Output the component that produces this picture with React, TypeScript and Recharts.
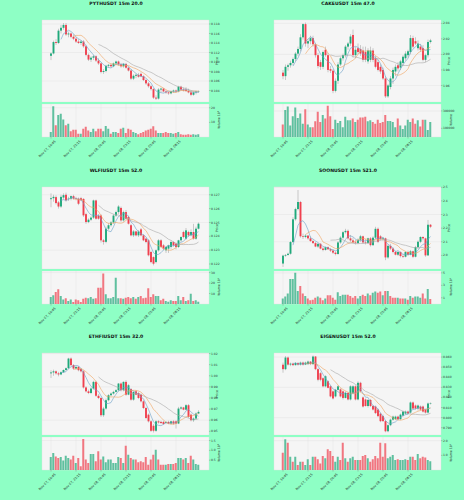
import { ComposedChart, Bar, Line, XAxis, YAxis, CartesianGrid, Cell } from "recharts";

// x axis: 60 fifteen-minute candles, a date label every 10 candles
const tickIndex = [0, 10, 20, 30, 40, 50];
const tickLabels = ["Nov 07, 19:45", "Nov 07, 22:15", "Nov 08, 00:45", "Nov 08, 03:15", "Nov 08, 05:45", "Nov 08, 08:15"];

// [open, high, low, close]
const pythCandles = [
  [0.1113, 0.112, 0.1104, 0.1118], [0.1118, 0.1145, 0.1116, 0.1142], [0.1142, 0.1148, 0.1136, 0.114], [0.114, 0.117, 0.1138, 0.1166],
  [0.1166, 0.1178, 0.116, 0.1172], [0.1172, 0.1182, 0.1168, 0.1178], [0.1178, 0.1182, 0.1155, 0.1158], [0.1158, 0.1164, 0.1152, 0.116],
  [0.116, 0.1162, 0.115, 0.1153], [0.1153, 0.1158, 0.1146, 0.1149], [0.1149, 0.1152, 0.114, 0.1143], [0.1143, 0.1148, 0.1138, 0.114],
  [0.114, 0.1146, 0.1136, 0.1143], [0.1143, 0.1146, 0.113, 0.1133], [0.1133, 0.1136, 0.1112, 0.1115], [0.1115, 0.1118, 0.1102, 0.1105],
  [0.1105, 0.1112, 0.11, 0.1109], [0.1109, 0.1115, 0.1104, 0.1112], [0.1112, 0.1114, 0.11, 0.1103], [0.1103, 0.1108, 0.1094, 0.1097],
  [0.1097, 0.1099, 0.1076, 0.1079], [0.1079, 0.1085, 0.1075, 0.1081], [0.1081, 0.1094, 0.1078, 0.1092], [0.1092, 0.1096, 0.1088, 0.1094],
  [0.1094, 0.1096, 0.1088, 0.1091], [0.1091, 0.1099, 0.1089, 0.1097], [0.1097, 0.1103, 0.1094, 0.1101], [0.1101, 0.1103, 0.1092, 0.1095],
  [0.1095, 0.1098, 0.1088, 0.1091], [0.1091, 0.1098, 0.1088, 0.1096], [0.1096, 0.1098, 0.1086, 0.1088], [0.1088, 0.109, 0.108, 0.1082],
  [0.1082, 0.1085, 0.1062, 0.1065], [0.1065, 0.1074, 0.1062, 0.1071], [0.1071, 0.1075, 0.1066, 0.1073], [0.1073, 0.1077, 0.1067, 0.1069],
  [0.1075, 0.1078, 0.1068, 0.107], [0.107, 0.1072, 0.106, 0.1062], [0.1062, 0.1064, 0.1052, 0.1055], [0.1055, 0.1058, 0.1046, 0.1049],
  [0.1049, 0.1052, 0.104, 0.1043], [0.1043, 0.1045, 0.1022, 0.1025], [0.1025, 0.103, 0.102, 0.1023], [0.1023, 0.1045, 0.1021, 0.1042],
  [0.1042, 0.1046, 0.1036, 0.1044], [0.1044, 0.1045, 0.1036, 0.1038], [0.1038, 0.1041, 0.1033, 0.1036], [0.1036, 0.1038, 0.1031, 0.1034],
  [0.1034, 0.104, 0.1032, 0.1038], [0.1038, 0.1042, 0.1035, 0.104], [0.104, 0.1042, 0.1036, 0.1038], [0.1038, 0.105, 0.1036, 0.1048],
  [0.1048, 0.105, 0.104, 0.1042], [0.1042, 0.1046, 0.1038, 0.104], [0.1042, 0.1047, 0.1037, 0.1039], [0.1039, 0.1044, 0.1034, 0.1036],
  [0.1036, 0.104, 0.1028, 0.1031], [0.1031, 0.1038, 0.1029, 0.1036], [0.1036, 0.104, 0.1032, 0.1038], [0.1038, 0.104, 0.1035, 0.1039],
];
const pythVolume = [
  3.4, 21, 8, 15, 16, 12, 8, 9, 4, 5, 5, 2.3, 2.3, 5.7, 7, 4.5, 3.4, 5.7, 4, 5.7,
  5.7, 4, 7.5, 5.7, 2.3, 3.4, 3.4, 2.7, 5.7, 6.4, 2.7, 5.7, 5, 3.4, 2.7, 1.8, 2.7, 3.4, 4.5, 5,
  5.7, 7.3, 4.5, 2.7, 2.7, 2.7, 3.4, 2.7, 2.7, 2.3, 2.7, 3.4, 1.8, 1.6, 1.6, 1.8, 1.6, 1.8, 1.6, 1.8,
];

const cakeCandles = [
  [1.9765, 1.98, 1.968, 1.972], [1.972, 1.987, 1.967, 1.984], [1.984, 1.988, 1.979, 1.986], [1.986, 1.992, 1.983, 1.989],
  [1.989, 1.996, 1.986, 1.994], [1.994, 2.003, 1.991, 2.001], [2.001, 2.01, 1.998, 2.007], [2.007, 2.026, 2.004, 2.022],
  [2.022, 2.04, 2.019, 2.039], [2.039, 2.041, 2.01, 2.014], [2.014, 2.02, 2.008, 2.017], [2.017, 2.024, 2.013, 2.021],
  [2.021, 2.024, 2.01, 2.013], [2.013, 2.015, 1.996, 1.999], [1.999, 2.002, 1.982, 1.985], [1.99, 1.993, 1.98, 1.984],
  [1.984, 2.005, 1.981, 2.003], [2.006, 2.01, 1.997, 1.999], [1.999, 2.002, 1.977, 1.98], [1.981, 1.985, 1.976, 1.979],
  [1.979, 1.981, 1.95, 1.953], [1.953, 1.969, 1.951, 1.966], [1.966, 1.99, 1.962, 1.987], [1.987, 1.997, 1.985, 1.995],
  [1.995, 2.001, 1.992, 1.999], [1.999, 2.012, 1.996, 2.01], [2.01, 2.016, 2.006, 2.014], [2.014, 2.026, 2.011, 2.023],
  [2.025, 2.032, 1.996, 1.999], [1.999, 2.01, 1.995, 2.006], [2.008, 2.014, 2.0, 2.003], [2.007, 2.012, 1.998, 2.001],
  [2.005, 2.01, 1.99, 1.993], [2.003, 2.01, 1.99, 1.993], [1.991, 2.008, 1.988, 2.005], [1.993, 2.01, 1.99, 2.005],
  [2.005, 2.008, 1.99, 1.993], [1.995, 1.998, 1.982, 1.984], [1.99, 1.993, 1.978, 1.98], [1.984, 1.987, 1.975, 1.978],
  [1.98, 1.983, 1.967, 1.969], [1.969, 1.972, 1.944, 1.946], [1.946, 1.962, 1.944, 1.96], [1.958, 1.972, 1.955, 1.969],
  [1.969, 1.983, 1.962, 1.98], [1.978, 1.987, 1.972, 1.984], [1.986, 1.99, 1.978, 1.982], [1.983, 1.993, 1.98, 1.991],
  [1.989, 1.999, 1.985, 1.997], [1.995, 2.004, 1.992, 2.001], [1.999, 2.006, 1.996, 2.004], [2.003, 2.025, 2.0, 2.021],
  [2.021, 2.024, 2.008, 2.01], [2.017, 2.022, 2.012, 2.014], [2.008, 2.018, 2.005, 2.014], [2.01, 2.013, 2.003, 2.006],
  [2.008, 2.012, 1.991, 1.993], [1.993, 2.001, 1.99, 1.999], [1.999, 2.019, 1.996, 2.016], [2.016, 2.02, 2.014, 2.018],
];
const cakeVolume = [
  144000, 312000, 352000, 132000, 240000, 340000, 220000, 272000, 152000, 320000,
  144000, 112000, 112000, 180000, 292000, 172000, 252000, 212000, 360000, 240000,
  92000, 200000, 160000, 184000, 112000, 232000, 192000, 192000, 212000, 172000,
  200000, 224000, 224000, 232000, 180000, 192000, 172000, 152000, 200000, 160000,
  172000, 252000, 184000, 184000, 172000, 112000, 212000, 132000, 92000, 132000,
  200000, 172000, 212000, 152000, 192000, 120000, 200000, 200000, 80000, 172000,
];

const wlfiCandles = [
  [0.12668, 0.1271, 0.1261, 0.12675], [0.12675, 0.127, 0.1265, 0.12685], [0.12683, 0.12695, 0.1263, 0.1264], [0.12645, 0.12655, 0.126, 0.12615],
  [0.12615, 0.127, 0.12605, 0.12685], [0.1268, 0.1271, 0.12665, 0.12697], [0.127, 0.12715, 0.1265, 0.1266], [0.12668, 0.12685, 0.12655, 0.12672],
  [0.12672, 0.12695, 0.1266, 0.1269], [0.1269, 0.127, 0.12665, 0.12672], [0.12674, 0.12685, 0.1266, 0.1267], [0.12672, 0.1268, 0.12625, 0.12635],
  [0.12675, 0.12685, 0.12655, 0.1266], [0.1267, 0.12675, 0.1254, 0.12551], [0.1256, 0.1257, 0.1249, 0.12503], [0.12503, 0.1253, 0.12495, 0.1252],
  [0.1252, 0.12545, 0.1251, 0.12535], [0.12535, 0.12665, 0.12525, 0.12659], [0.12659, 0.12665, 0.1252, 0.12527], [0.1255, 0.1256, 0.1252, 0.12527],
  [0.1255, 0.1256, 0.12355, 0.12371], [0.12371, 0.1238, 0.1234, 0.1236], [0.1236, 0.1247, 0.1235, 0.12455], [0.12455, 0.12495, 0.12445, 0.1248],
  [0.1248, 0.1251, 0.1247, 0.125], [0.125, 0.1256, 0.1249, 0.1255], [0.1255, 0.12585, 0.1254, 0.12575], [0.12575, 0.12625, 0.1256, 0.12615],
  [0.12605, 0.12615, 0.12505, 0.12515], [0.12515, 0.12585, 0.12505, 0.12575], [0.12575, 0.1259, 0.1252, 0.12527], [0.1254, 0.1255, 0.12485, 0.12491],
  [0.1248, 0.1249, 0.124, 0.12407], [0.12407, 0.12445, 0.12395, 0.12435], [0.12435, 0.1244, 0.124, 0.12407], [0.12407, 0.12445, 0.12395, 0.12435],
  [0.1245, 0.1246, 0.124, 0.12407], [0.12407, 0.12415, 0.12365, 0.12371], [0.12383, 0.1239, 0.1235, 0.12359], [0.12371, 0.1238, 0.12255, 0.12263],
  [0.12287, 0.12295, 0.12205, 0.12214], [0.1225, 0.12255, 0.1219, 0.12202], [0.12214, 0.12305, 0.12205, 0.12299], [0.12299, 0.1238, 0.1229, 0.12371],
  [0.12371, 0.1238, 0.12315, 0.12323], [0.12335, 0.12345, 0.123, 0.12311], [0.12299, 0.1233, 0.1228, 0.12323], [0.12311, 0.1234, 0.1228, 0.12335],
  [0.12323, 0.1237, 0.1231, 0.12359], [0.12359, 0.12365, 0.12325, 0.12335], [0.12347, 0.12355, 0.12305, 0.12323], [0.12323, 0.12375, 0.12315, 0.12371],
  [0.12371, 0.124, 0.1236, 0.12395], [0.12431, 0.1244, 0.12385, 0.12395], [0.12383, 0.1246, 0.12375, 0.12443], [0.12431, 0.1244, 0.12395, 0.12407],
  [0.12407, 0.1245, 0.124, 0.12431], [0.12431, 0.1249, 0.12375, 0.12383], [0.12383, 0.1247, 0.12375, 0.12455], [0.12455, 0.125, 0.1245, 0.12491],
];
const wlfiVolume = [
  6.7, 8.3, 11.4, 14, 7.6, 4.4, 5.4, 2.9, 4.4, 1.9, 4.4, 3.5, 1.9, 5, 6, 5.4, 6.7, 5, 5.4, 15.6,
  15.6, 29, 9.2, 5.4, 5.4, 6.7, 25, 5.4, 5.4, 5, 6, 6.7, 5.4, 6.7, 5, 6.7, 7.6, 5.4, 6, 15,
  6.7, 9.2, 7.6, 7.6, 3.5, 5, 2.9, 2.2, 3.5, 2.9, 2.9, 7.6, 3.5, 6.7, 2.9, 3.5, 9.8, 2.9, 3.5, 2.2,
];

const soonCandles = [
  [1.94, 2.005, 1.915, 1.998], [1.998, 2.01, 1.99, 2.003], [2.003, 2.02, 1.998, 2.012], [2.012, 2.105, 2.005, 2.098],
  [2.098, 2.28, 2.09, 2.265], [2.265, 2.35, 2.255, 2.34], [2.34, 2.48, 2.33, 2.392], [2.392, 2.4, 2.13, 2.14],
  [2.14, 2.16, 2.12, 2.135], [2.135, 2.155, 2.125, 2.145], [2.145, 2.15, 2.115, 2.125], [2.125, 2.14, 2.1, 2.105],
  [2.105, 2.115, 2.085, 2.09], [2.09, 2.1, 2.06, 2.065], [2.065, 2.09, 2.055, 2.085], [2.085, 2.09, 2.045, 2.05],
  [2.05, 2.06, 2.03, 2.04], [2.04, 2.065, 2.035, 2.06], [2.06, 2.065, 2.04, 2.045], [2.045, 2.055, 2.025, 2.035],
  [2.035, 2.045, 2.01, 2.02], [2.02, 2.03, 2.0, 2.01], [2.01, 2.105, 2.005, 2.095], [2.095, 2.14, 2.085, 2.13],
  [2.13, 2.18, 2.12, 2.17], [2.17, 2.195, 2.16, 2.18], [2.18, 2.19, 2.115, 2.125], [2.125, 2.15, 2.1, 2.11],
  [2.11, 2.13, 2.09, 2.095], [2.095, 2.115, 2.08, 2.09], [2.09, 2.125, 2.085, 2.115], [2.115, 2.15, 2.1, 2.14],
  [2.14, 2.145, 2.085, 2.095], [2.095, 2.12, 2.08, 2.09], [2.09, 2.13, 2.085, 2.125], [2.125, 2.135, 2.065, 2.075],
  [2.075, 2.14, 2.07, 2.13], [2.13, 2.21, 2.12, 2.195], [2.195, 2.205, 2.09, 2.1], [2.14, 2.15, 2.11, 2.12],
  [2.12, 2.135, 2.105, 2.125], [2.125, 2.13, 1.965, 1.985], [1.985, 2.08, 1.975, 2.07], [2.07, 2.085, 2.04, 2.05],
  [2.05, 2.06, 2.015, 2.025], [2.025, 2.035, 2.0, 2.005], [2.005, 2.03, 1.995, 2.025], [2.025, 2.03, 1.985, 1.995],
  [1.995, 2.01, 1.98, 1.99], [1.99, 2.03, 1.985, 2.025], [2.025, 2.035, 1.995, 2.005], [2.005, 2.04, 2.0, 2.03],
  [2.03, 2.035, 1.98, 1.99], [1.99, 2.07, 1.985, 2.06], [2.06, 2.11, 2.05, 2.1], [2.1, 2.14, 2.09, 2.135],
  [2.135, 2.14, 2.11, 2.125], [2.125, 2.13, 1.99, 2.0], [2.0, 2.26, 1.995, 2.225], [2.225, 2.23, 2.2, 2.21],
];
const soonVolume = [
  0.9, 1.2, 1.7, 4.0, 4.0, 5.0, 2.1, 2.9, 1.7, 1.3, 0.9, 0.6, 0.7, 1.0, 1.2, 1.0, 0.6, 0.9, 1.4, 1.4,
  1.0, 0.7, 1.9, 1.3, 1.5, 1.5, 1.5, 1.3, 1.0, 1.3, 0.9, 1.3, 1.5, 1.3, 1.7, 1.4, 1.8, 2.0, 1.8, 2.0,
  1.4, 2.1, 2.1, 1.3, 1.0, 1.0, 1.0, 0.9, 0.9, 0.9, 0.7, 1.3, 1.0, 1.2, 1.2, 1.0, 1.7, 0.9, 2.4, 0.8,
];

const ethfiCandles = [
  [1.0022, 1.005, 0.998, 1.003], [1.003, 1.0055, 1.0, 1.004], [1.004, 1.0048, 1.001, 1.0022], [1.0022, 1.0035, 0.9995, 1.0012],
  [1.0012, 1.004, 1.0005, 1.0032], [1.0032, 1.0058, 1.0025, 1.0052], [1.0052, 1.0075, 1.0045, 1.0068], [1.0068, 1.0162, 1.006, 1.0155],
  [1.0155, 1.0165, 1.0085, 1.0096], [1.0096, 1.0105, 1.0055, 1.0065], [1.0065, 1.0085, 1.0055, 1.008], [1.008, 1.0088, 1.004, 1.005],
  [1.006, 1.007, 1.003, 1.004], [1.004, 1.005, 0.9885, 0.9895], [0.9895, 0.9905, 0.985, 0.986], [0.986, 0.9875, 0.9835, 0.9845],
  [0.9845, 0.9895, 0.9835, 0.9885], [0.9885, 0.9955, 0.9875, 0.9945], [0.9945, 0.9955, 0.981, 0.982], [0.982, 0.9835, 0.979, 0.98],
  [0.98, 0.981, 0.963, 0.9645], [0.9645, 0.972, 0.963, 0.9705], [0.9705, 0.9795, 0.9695, 0.978], [0.978, 0.9835, 0.977, 0.9825],
  [0.9825, 0.985, 0.9815, 0.984], [0.984, 0.9865, 0.983, 0.9855], [0.9855, 0.988, 0.985, 0.987], [0.987, 0.9935, 0.986, 0.993],
  [0.993, 0.994, 0.986, 0.987], [0.987, 0.995, 0.986, 0.9945], [0.9945, 0.996, 0.982, 0.983], [0.983, 0.9925, 0.9825, 0.9915],
  [0.988, 0.989, 0.9775, 0.9785], [0.9785, 0.986, 0.9775, 0.9855], [0.986, 0.987, 0.9825, 0.983], [0.9845, 0.9855, 0.979, 0.98],
  [0.983, 0.984, 0.976, 0.977], [0.977, 0.978, 0.97, 0.971], [0.971, 0.972, 0.961, 0.962], [0.965, 0.966, 0.958, 0.959],
  [0.959, 0.96, 0.9495, 0.9505], [0.955, 0.9565, 0.949, 0.9505], [0.9505, 0.96, 0.9495, 0.959], [0.959, 0.96, 0.957, 0.958],
  [0.9585, 0.9595, 0.9565, 0.9575], [0.9585, 0.9595, 0.956, 0.9565], [0.9575, 0.959, 0.9565, 0.9585], [0.9585, 0.9595, 0.9565, 0.957],
  [0.957, 0.9595, 0.956, 0.959], [0.959, 0.96, 0.956, 0.957], [0.959, 0.96, 0.9525, 0.957], [0.957, 0.972, 0.9565, 0.9705],
  [0.9705, 0.9725, 0.9695, 0.9715], [0.9715, 0.972, 0.969, 0.9695], [0.9695, 0.9745, 0.969, 0.9735], [0.9735, 0.9745, 0.962, 0.963],
  [0.965, 0.966, 0.959, 0.96], [0.96, 0.9625, 0.9585, 0.9615], [0.9615, 0.967, 0.9605, 0.966], [0.966, 0.969, 0.9655, 0.9675],
];
const ethfiVolume = [
  0.66, 0.86, 0.69, 0.61, 0.66, 0.49, 0.73, 0.61, 0.53, 0.73, 0.36, 0.61, 0.19, 1.58, 0.53, 0.36, 0.81, 0.81, 0.44, 0.95,
  0.53, 0.69, 0.39, 0.53, 0.53, 0.36, 0.36, 0.66, 0.61, 0.36, 1.24, 0.78, 0.61, 0.53, 0.53, 0.39, 0.44, 0.39, 0.66, 0.27,
  0.53, 0.78, 1.03, 0.53, 0.27, 0.27, 0.27, 0.31, 0.31, 0.31, 0.36, 0.61, 0.61, 0.53, 0.61, 0.36, 0.73, 0.53, 0.31, 0.27,
];

const eigenCandles = [
  [0.8524, 0.8545, 0.8445, 0.848], [0.848, 0.861, 0.847, 0.8595], [0.8595, 0.8605, 0.8515, 0.8525], [0.8525, 0.8545, 0.851, 0.8535],
  [0.8535, 0.8545, 0.851, 0.852], [0.852, 0.855, 0.8515, 0.854], [0.854, 0.855, 0.8515, 0.8525], [0.8525, 0.8555, 0.8515, 0.8545],
  [0.8545, 0.8555, 0.8515, 0.8525], [0.8525, 0.8555, 0.852, 0.8545], [0.853, 0.8565, 0.852, 0.8555], [0.8555, 0.856, 0.852, 0.853],
  [0.853, 0.8615, 0.852, 0.8605], [0.8605, 0.861, 0.847, 0.848], [0.848, 0.849, 0.836, 0.8375], [0.844, 0.845, 0.836, 0.8375],
  [0.839, 0.84, 0.83, 0.831], [0.831, 0.842, 0.83, 0.841], [0.836, 0.837, 0.829, 0.8295], [0.831, 0.832, 0.82, 0.821],
  [0.826, 0.827, 0.818, 0.819], [0.821, 0.8285, 0.82, 0.8275], [0.8275, 0.832, 0.827, 0.831], [0.828, 0.829, 0.82, 0.821],
  [0.826, 0.827, 0.818, 0.8195], [0.8195, 0.826, 0.819, 0.8245], [0.8245, 0.825, 0.817, 0.818], [0.818, 0.832, 0.817, 0.831],
  [0.824, 0.832, 0.823, 0.831], [0.831, 0.832, 0.817, 0.818], [0.818, 0.836, 0.817, 0.8345], [0.8345, 0.8355, 0.825, 0.826],
  [0.82, 0.821, 0.81, 0.811], [0.818, 0.819, 0.811, 0.8115], [0.8115, 0.8185, 0.81, 0.8175], [0.8175, 0.8185, 0.8105, 0.8115],
  [0.8115, 0.8125, 0.807, 0.808], [0.811, 0.812, 0.8035, 0.8045], [0.808, 0.809, 0.8005, 0.8015], [0.804, 0.805, 0.7955, 0.7965],
  [0.8015, 0.803, 0.796, 0.7965], [0.7965, 0.7975, 0.7855, 0.7865], [0.7865, 0.7935, 0.7855, 0.7925], [0.7925, 0.799, 0.7915, 0.798],
  [0.798, 0.802, 0.797, 0.801], [0.7985, 0.802, 0.7975, 0.801], [0.801, 0.802, 0.7975, 0.7985], [0.7985, 0.804, 0.7975, 0.803],
  [0.802, 0.807, 0.801, 0.806], [0.804, 0.807, 0.803, 0.806], [0.806, 0.807, 0.803, 0.804], [0.805, 0.816, 0.804, 0.815],
  [0.815, 0.816, 0.808, 0.809], [0.812, 0.813, 0.808, 0.809], [0.809, 0.813, 0.807, 0.812], [0.811, 0.812, 0.807, 0.808],
  [0.811, 0.812, 0.805, 0.806], [0.808, 0.809, 0.804, 0.805], [0.805, 0.815, 0.804, 0.814], [0.814, 0.815, 0.813, 0.8145],
];
const eigenVolume = [
  1.18, 2.09, 1.86, 0.91, 0.57, 0.91, 0.34, 0.57, 0.57, 0.34, 0.73, 0.34, 0.91, 0.91, 0.73, 0.45, 0.95, 0.8, 1.41, 1.3,
  0.95, 0.57, 0.91, 0.68, 1.86, 0.8, 0.57, 0.8, 0.91, 0.68, 0.68, 0.68, 0.95, 1.02, 0.8, 0.57, 0.73, 0.95, 0.8, 1.86,
  0.91, 1.82, 0.8, 0.91, 1.02, 0.68, 0.73, 0.68, 0.68, 0.73, 0.68, 0.91, 0.91, 0.68, 1.09, 0.8, 0.91, 0.86, 0.68, 0.6,
];

const UP = "#1fa97b";
const DOWN = "#f0404f";
const WICK = "#9a9a9a";
const MA_COLORS = ["#6b9fc8", "#f0a35e", "#a8a8a8"];
const MA_WINDOWS = [5, 10, 20];
const BG = "#8effc5";

const panels = [
  { title: "PYTHUSDT 15m 20.0", candles: pythCandles, volume: pythVolume, priceDomain: [0.10158, 0.11884], priceTicks: [0.102, 0.104, 0.106, 0.108, 0.11, 0.112, 0.114, 0.116, 0.118], digits: 3, volDomain: [0, 22.6], volTicks: [5, 10, 15, 20], volDigits: 0, volLabel: "Volume  10⁷" },
  { title: "CAKEUSDT 15m 47.0", candles: cakeCandles, volume: cakeVolume, priceDomain: [1.9387, 2.0443], priceTicks: [1.94, 1.96, 1.98, 2.0, 2.02, 2.04], digits: 2, volDomain: [0, 380000], volTicks: [100000, 200000, 300000], volDigits: 0, volLabel: "Volume" },
  { title: "WLFIUSDT 15m 52.0", candles: wlfiCandles, volume: wlfiVolume, priceDomain: [0.12164, 0.12756], priceTicks: [0.122, 0.123, 0.124, 0.125, 0.126, 0.127], digits: 3, volDomain: [0, 31.5], volTicks: [10, 20, 30], volDigits: 0, volLabel: "Volume  10⁶" },
  { title: "SOONUSDT 15m 521.0", candles: soonCandles, volume: soonVolume, priceDomain: [1.9, 2.502], priceTicks: [1.9, 2.0, 2.1, 2.2, 2.3, 2.4, 2.5], digits: 1, volDomain: [0, 5.3], volTicks: [1, 2, 3, 4, 5], volDigits: 0, volLabel: "Volume  10⁶" },
  { title: "ETHFIUSDT 15m 32.0", candles: ethfiCandles, volume: ethfiVolume, priceDomain: [0.9467, 1.0205], priceTicks: [0.95, 0.96, 0.97, 0.98, 0.99, 1.0, 1.01, 1.02], digits: 2, volDomain: [0, 1.68], volTicks: [0.5, 1.0, 1.5], volDigits: 1, volLabel: "Volume  10⁷" },
  { title: "EIGENUSDT 15m 52.0", candles: eigenCandles, volume: eigenVolume, priceDomain: [0.7828, 0.864], priceTicks: [0.79, 0.8, 0.81, 0.82, 0.83, 0.84, 0.85, 0.86], digits: 3, volDomain: [0, 2.25], volTicks: [0.5, 1.0, 1.5, 2.0], volDigits: 1, volLabel: "Volume  10⁶" },
];

const movingAverage = (candles: number[][], i: number, n: number) => {
  if (i < n - 1) return null;
  let sum = 0;
  for (let k = i - n + 1; k <= i; k++) sum += candles[k][3];
  return sum / n;
};

const Candle = (props: any) => {
  const { x, y, width, height, payload } = props;
  const { o, h, l, c } = payload;
  const cx = x + width / 2;
  const span = h - l || 1;
  const py = (v: number) => y + ((h - v) / span) * height;
  const top = py(Math.max(o, c));
  const bot = py(Math.min(o, c));
  return (
    <g>
      <line x1={cx} x2={cx} y1={y} y2={y + height} stroke={WICK} strokeWidth={0.5} />
      <rect x={cx - 0.95} y={top} width={1.9} height={Math.max(bot - top, 0.4)} fill={c >= o ? UP : DOWN} />
    </g>
  );
};

const DateTick = (props: any) => {
  const { x, y, payload } = props;
  return (
    <text transform={`translate(${x + 5},${y + 1}) rotate(-45)`} textAnchor="end" fontSize={3.2} fill="#222">
      {tickLabels[tickIndex.indexOf(payload.value)]}
    </text>
  );
};

const axisTick = { fontSize: 3, fill: "#333" };
const xPad = { left: 7.75, right: 9.25 };

const Panel = ({ cfg, left, top }: { cfg: any; left: number; top: number }) => {
  const data = cfg.candles.map((row: number[], i: number) => ({
    i,
    o: row[0],
    h: row[1],
    l: row[2],
    c: row[3],
    v: cfg.volume[i],
    ma5: movingAverage(cfg.candles, i, MA_WINDOWS[0]),
    ma10: movingAverage(cfg.candles, i, MA_WINDOWS[1]),
    ma20: movingAverage(cfg.candles, i, MA_WINDOWS[2]),
  }));
  return (
    <div style={{ position: "absolute", left, top, width: 232, height: 167 }}>
      <div style={{ position: "absolute", left: 0, top: 1, width: 232, textAlign: "center", fontSize: 4.6, fontWeight: "bold", color: "#111" }}>
        {cfg.title}
      </div>
      <div style={{ position: "absolute", left: 0, top: 0 }}>
        <ComposedChart width={232} height={102} data={data} margin={{ top: 20, left: 42, right: 3, bottom: 0 }}>
          <CartesianGrid stroke="#dddddd" strokeWidth={0.4} fill="#f5f5f5" fillOpacity={1} />
          <XAxis dataKey="i" type="category" ticks={tickIndex} tick={false} axisLine={false} tickLine={false} height={0} padding={xPad} />
          <YAxis orientation="right" width={20} domain={cfg.priceDomain} ticks={cfg.priceTicks} allowDataOverflow
            tick={axisTick} tickSize={1.5} tickMargin={0.5} tickLine={{ stroke: "#777", strokeWidth: 0.4 }} axisLine={false}
            tickFormatter={(v: number) => v.toFixed(cfg.digits)} />
          <Bar dataKey={(d: any) => [d.l, d.h]} shape={Candle} isAnimationActive={false} />
          <Line type="linear" dataKey="ma5" stroke={MA_COLORS[0]} strokeWidth={0.6} dot={false} isAnimationActive={false} />
          <Line type="linear" dataKey="ma10" stroke={MA_COLORS[1]} strokeWidth={0.6} dot={false} isAnimationActive={false} />
          <Line type="linear" dataKey="ma20" stroke={MA_COLORS[2]} strokeWidth={0.6} dot={false} isAnimationActive={false} />
        </ComposedChart>
      </div>
      <div style={{ position: "absolute", left: 0, top: 104 }}>
        <ComposedChart width={232} height={59} data={data} margin={{ top: 0, left: 42, right: 3, bottom: 0 }}>
          <CartesianGrid stroke="#dddddd" strokeWidth={0.4} fill="#f5f5f5" fillOpacity={1} />
          <XAxis dataKey="i" type="category" ticks={tickIndex} interval={0} height={26} padding={xPad}
            tick={<DateTick />} tickSize={1.5} tickLine={{ stroke: "#777", strokeWidth: 0.4 }} axisLine={false} />
          <YAxis orientation="right" width={20} domain={cfg.volDomain} ticks={cfg.volTicks} allowDataOverflow
            tick={axisTick} tickSize={1.5} tickMargin={0.5} tickLine={{ stroke: "#777", strokeWidth: 0.4 }} axisLine={false}
            tickFormatter={(v: number) => v.toFixed(cfg.volDigits)} />
          <Bar dataKey="v" barSize={2} isAnimationActive={false}>
            {data.map((d: any) => (
              <Cell key={d.i} fill={d.c >= d.o ? UP : DOWN} fillOpacity={0.7} />
            ))}
          </Bar>
        </ComposedChart>
      </div>
      <div style={{ position: "absolute", left: 217, top: 61, transform: "translate(-50%,-50%) rotate(-90deg)", fontSize: 3.2, color: "#222", whiteSpace: "nowrap" }}>
        Price
      </div>
      <div style={{ position: "absolute", left: 219, top: 120, transform: "translate(-50%,-50%) rotate(-90deg)", fontSize: 3.2, color: "#222", whiteSpace: "nowrap" }}>
        {cfg.volLabel}
      </div>
    </div>
  );
};

export default function App() {
  return (
    <div style={{ position: "fixed", left: 0, top: 0, width: 464, height: 500, background: BG, fontFamily: "'DejaVu Sans', sans-serif", overflow: "hidden" }}>
      {panels.map((cfg, k) => (
        <Panel key={cfg.title} cfg={cfg} left={(k % 2) * 232} top={Math.floor(k / 2) * 166.67} />
      ))}
    </div>
  );
}
